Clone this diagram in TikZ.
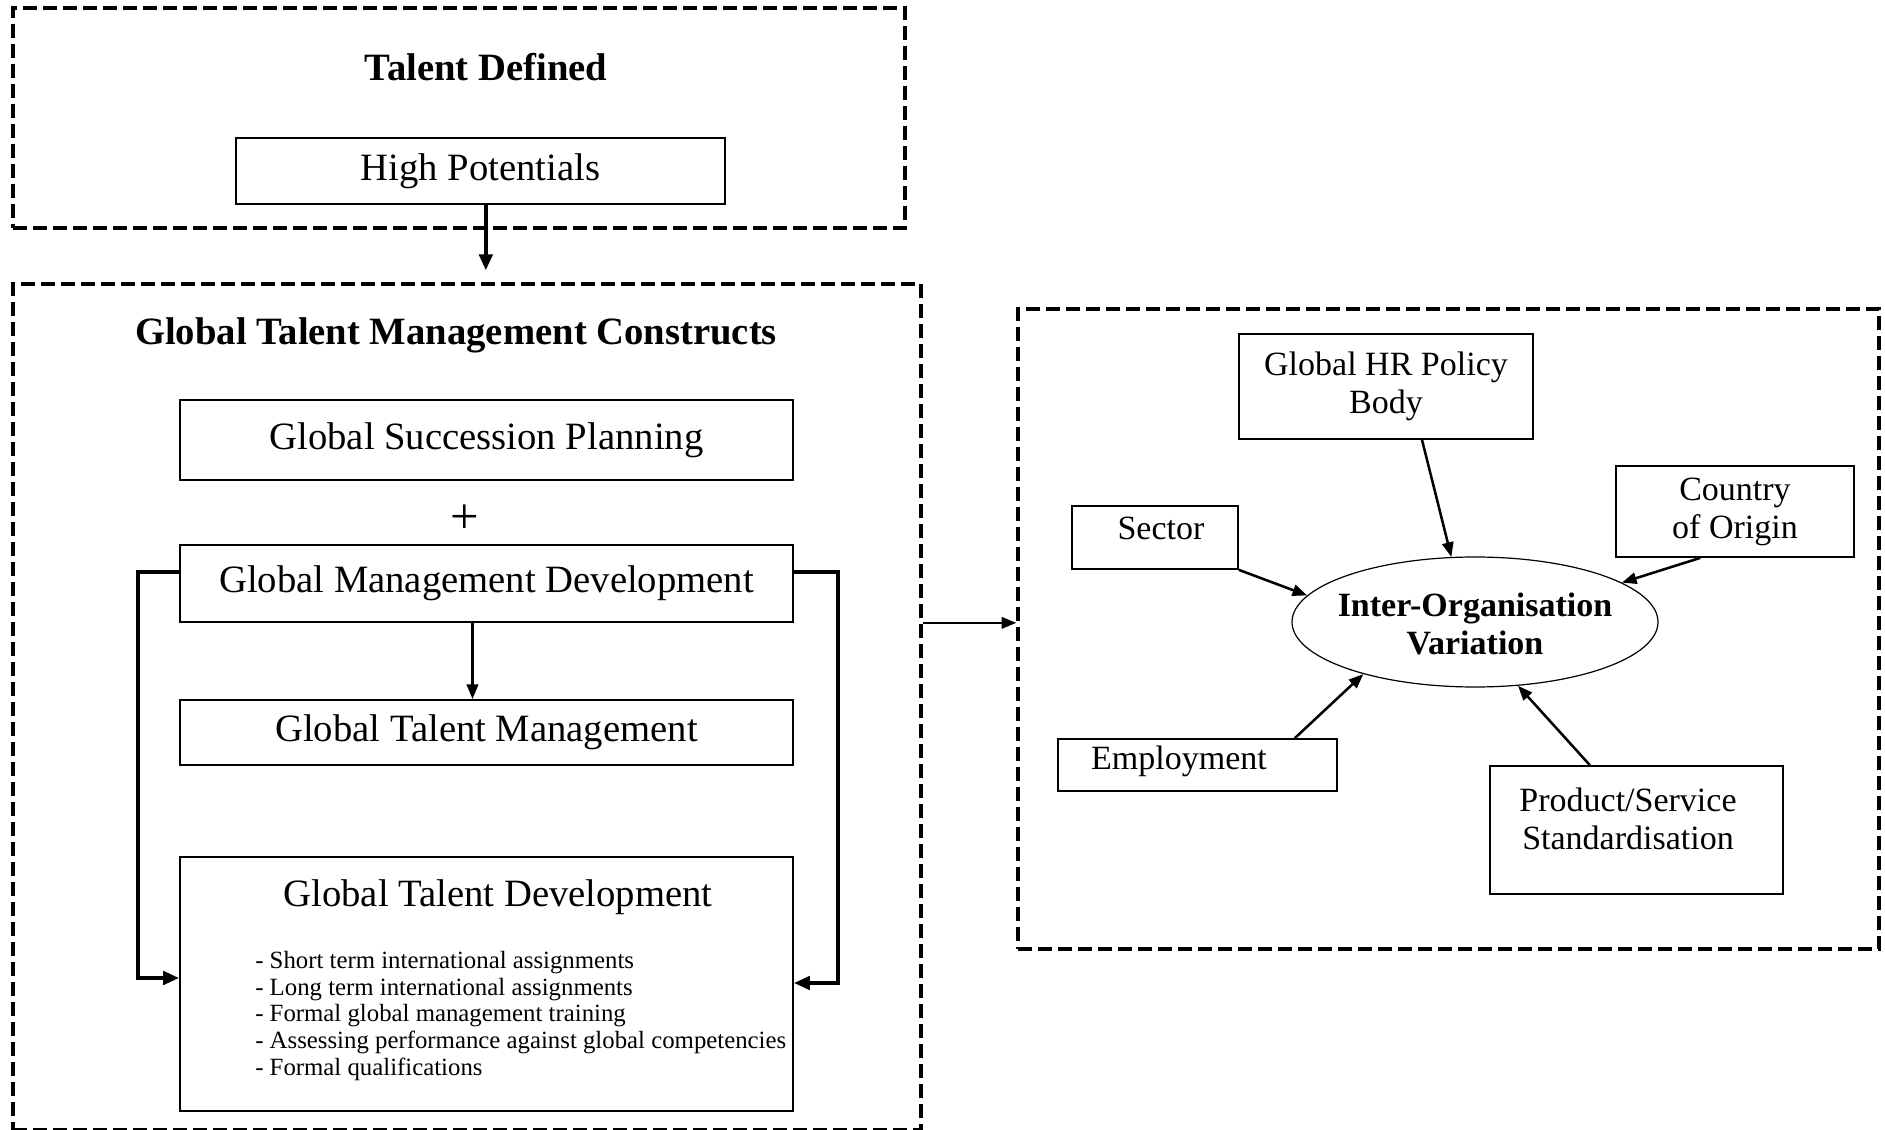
\documentclass[tikz,border=0pt]{standalone}
\usepackage{fontspec}
\setmainfont{Liberation Serif}
\usetikzlibrary{arrows.meta,shapes.geometric}

\begin{document}
\begin{tikzpicture}[x=0.75pt,y=0.75pt,yscale=-1,xscale=1,
  dashbox/.style={draw, dash pattern=on 10.5pt off 4.5pt, line width=2.5pt, inner sep=0pt},
  box/.style={draw, line width=1.3pt, inner sep=0pt, align=center},
  bigtext/.style={font=\fontsize{29}{34}\selectfont},
  titletext/.style={font=\fontsize{29}{34}\selectfont\bfseries},
  smalltext/.style={font=\fontsize{25.5}{28.5}\selectfont, align=center},
  listtext/.style={font=\fontsize{18.6}{19.9}\selectfont, align=left},
  thickarrow/.style={-{Triangle[length=12pt,width=10pt]}, line width=2.8pt},
  arrow/.style={-{Triangle[length=11pt,width=8.5pt]}, line width=1.9pt},
]
\useasboundingbox (0,0) rectangle (1885,1130);

%Shape: Dashed Rectangle
\node [dashbox, minimum width=669pt, minimum height=165pt] (talent) at (459,118) {};
% Text Node
\node [titletext] (talenttitle) at (486,67) {Talent Defined};
%Shape: Rectangle
\node [box, bigtext, minimum width=366.75pt, minimum height=49.5pt] (hp) at (480.5,171) {High Potentials};

%Shape: Dashed Rectangle
\node [dashbox, minimum width=681pt, minimum height=634.5pt] (gtmc) at (467,707) {};
% Text Node
\node [titletext] (gtmctitle) at (456,335) {Global Talent Management Constructs};
%Shape: Rectangle
\node [box, bigtext, minimum width=459.75pt, minimum height=60pt] (gsp) at (486.5,440) {Global Succession Planning};
% Text Node
\node [font=\fontsize{38}{40}\selectfont] (plus) at (465,519) {+};
%Shape: Rectangle
\node [box, bigtext, minimum width=459.75pt, minimum height=57.75pt] (gmd) at (486.5,583.5) {Global Management Development};
%Shape: Rectangle
\node [box, bigtext, minimum width=459.75pt, minimum height=48.75pt] (gtm) at (486.5,732.5) {Global Talent Management};
%Shape: Rectangle
\node [box, minimum width=459.75pt, minimum height=190.5pt] (gtd) at (486.5,984) {};
% Text Node
\node [bigtext] (gtdtitle) at (498,897) {Global Talent Development};
% Text Node
\node [listtext, anchor=west, inner sep=0pt] (gtdlist) at (255,1016) {- Short term international assignments\\- Long term international assignments\\- Formal global management training\\- Assessing performance against global competencies\\- Formal qualifications};

%Shape: Dashed Rectangle
\node [dashbox, minimum width=645.75pt, minimum height=480pt] (panel) at (1448.5,629) {};
%Shape: Rectangle
\node [box, smalltext, minimum width=220.5pt, minimum height=78.75pt] (hr) at (1386,386.5) {Global HR Policy\\Body};
%Shape: Rectangle
\node [box, smalltext, minimum width=178.5pt, minimum height=68.25pt] (coo) at (1735,511.5) {Country\\of Origin};
%Shape: Rectangle
\node [box, minimum width=124.5pt, minimum height=47.25pt] (sector) at (1155,537.5) {};
% Text Node
\node [smalltext] (sectortext) at (1161,528) {Sector};
%Shape: Ellipse
\node [ellipse, draw, line width=0.9pt, minimum width=274.5pt, minimum height=97.5pt, inner sep=0pt] (iov) at (1475,622) {};
% Text Node
\node [smalltext, font=\fontsize{25.5}{28.5}\selectfont\bfseries] (iovtext) at (1475,624) {Inter-Organisation\\Variation};
%Shape: Rectangle
\node [box, minimum width=209.25pt, minimum height=39pt] (emp) at (1197.5,765) {};
% Text Node
\node [smalltext] (emptext) at (1179,761) {Employment};
%Shape: Rectangle
\node [box, minimum width=219.75pt, minimum height=96pt] (pss) at (1636.5,830) {};
% Text Node
\node [smalltext] (psstext) at (1628,819) {Product/Service\\Standardisation};

%Straight Lines
\draw [thickarrow, shorten >=9pt] ([xshift=4pt]hp.south) -- ([xshift=4pt]hp.south |- gtmc.north);
\draw [arrow] ([xshift=-10.5pt]gmd.south) -- ([xshift=-10.5pt]gtm.north);
\draw [thickarrow] ([yshift=-8.6pt]gmd.west) -- ++(-41,0) |- ([yshift=-4.5pt]gtd.west);
\draw [thickarrow] ([yshift=-8.6pt]gmd.east) -- ++(44,0) |- ([yshift=-0.75pt]gtd.east);
\draw [arrow] (gmd.south -| gtmc.east) -- (gmd.south -| panel.west);

%Straight Lines
\draw [arrow] ([xshift=27pt]hr.south) -- (iov.110);
\draw [arrow] (sector.south east) -- (iov.171);
\draw [arrow] ([xshift=-26pt]coo.south) -- (iov.15);
\draw [arrow] ([xshift=73pt]emp.north) -- (iov.205);
\draw [arrow] ([xshift=-35pt]pss.north) -- (iov.304);

\end{tikzpicture}
\end{document}
